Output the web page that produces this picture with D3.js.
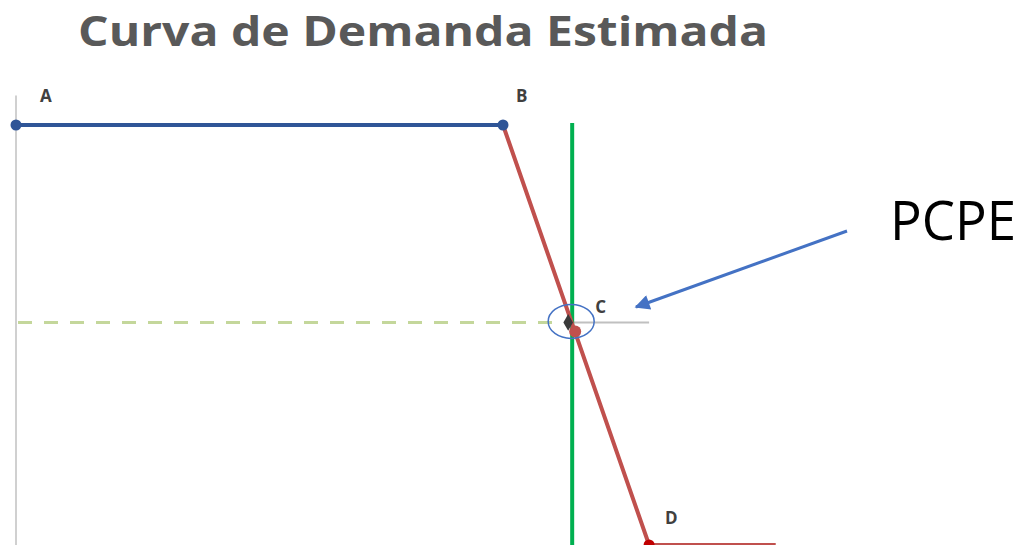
<!DOCTYPE html>
<html>
<head>
<meta charset="utf-8">
<script src="https://cdn.jsdelivr.net/npm/d3@7"></script>
<style>
  body { margin: 0; background: #fff; }
  svg { display: block; }
</style>
</head>
<body>
<div id="chart"></div>
<script>
// demand curve points (quantity, price)
var curveLabels = ["A", "B", "C", "D"];
var upperSegment = [[0, 100], [50, 100]];
var lowerSegment = [[50, 100], [65, 0], [78, 0]];
var pointC = [57, 53];
var supplyQ = 57;
var supplyTop = 100.5;
var labelPoints = [[0, 100], [50, 100], [57, 53], [65, 0]];

var w = 1021;
var h = 545;

var x = d3.scaleLinear().domain([0, 100]).range([16, 990]);
var y = d3.scaleLinear().domain([0, 100]).range([545, 125]);

var svg = d3.select("#chart")
    .append("svg")
    .attr("width", w)
    .attr("height", h);

// title
svg.append("text")
    .attr("x", 78)
    .attr("y", 46)
    .attr("font-family", "'Open Sans', sans-serif")
    .attr("font-weight", "bold")
    .attr("font-size", "41px")
    .attr("fill", "#595959")
    .attr("textLength", 690)
    .attr("lengthAdjust", "spacingAndGlyphs")
    .text("Curva de Demanda Estimada");

// vertical axis line
svg.append("line")
    .attr("x1", x(0)).attr("x2", x(0))
    .attr("y1", y(107)).attr("y2", y(0))
    .attr("stroke", "#d0d0d0")
    .attr("stroke-width", 2);

// dashed price line to C
svg.append("line")
    .attr("x1", x(0) + 2).attr("x2", x(pointC[0]) - 10)
    .attr("y1", y(pointC[1])).attr("y2", y(pointC[1]))
    .attr("stroke", "#c4d79b")
    .attr("stroke-width", 3)
    .attr("stroke-dasharray", "14,12");

// grey line from C
svg.append("line")
    .attr("x1", x(pointC[0]) - 6).attr("x2", x(65))
    .attr("y1", y(pointC[1])).attr("y2", y(pointC[1]))
    .attr("stroke", "#c0c0c0")
    .attr("stroke-width", 2);

var line = d3.line()
    .x(function(d) { return x(d[0]); })
    .y(function(d) { return y(d[1]); });

// green vertical line
svg.append("line")
    .attr("x1", x(supplyQ) + 1).attr("x2", x(supplyQ) + 1)
    .attr("y1", y(supplyTop)).attr("y2", y(0))
    .attr("stroke", "#00b050")
    .attr("stroke-width", 4);

svg.append("path")
    .datum(lowerSegment)
    .attr("d", line)
    .attr("fill", "none")
    .attr("stroke", "#c0504d")
    .attr("stroke-width", 4);

svg.append("path")
    .datum(upperSegment)
    .attr("d", line)
    .attr("fill", "none")
    .attr("stroke", "#2f5597")
    .attr("stroke-width", 4);

// markers
svg.selectAll("circle.blue")
    .data(upperSegment)
    .enter()
    .append("circle")
    .attr("class", "blue")
    .attr("cx", function(d) { return x(d[0]); })
    .attr("cy", function(d) { return y(d[1]); })
    .attr("r", 5.5)
    .attr("fill", "#2f5597");

svg.append("circle")
    .attr("cx", x(65))
    .attr("cy", y(0))
    .attr("r", 5.5)
    .attr("fill", "#c00000");

svg.append("circle")
    .attr("cx", x(pointC[0]) + 4)
    .attr("cy", y(pointC[1]) + 9)
    .attr("r", 6)
    .attr("fill", "#c0504d");

svg.append("path")
    .attr("d", d3.symbol().type(d3.symbolDiamond).size(80)())
    .attr("transform", "translate(" + (x(pointC[0]) - 3) + "," + y(pointC[1]) + ")")
    .attr("fill", "#3a3a3a");

// ellipse around C
svg.append("ellipse")
    .attr("cx", x(pointC[0]))
    .attr("cy", y(pointC[1]) - 1)
    .attr("rx", 23)
    .attr("ry", 17)
    .attr("fill", "none")
    .attr("stroke", "#4472c4")
    .attr("stroke-width", 1.5);

// point labels
var offsets = [[24, -23], [13, -23], [24, -9], [16, -21]];
svg.selectAll("text.lbl")
    .data(labelPoints)
    .enter()
    .append("text")
    .attr("class", "lbl")
    .attr("x", function(d, i) { return x(d[0]) + offsets[i][0]; })
    .attr("y", function(d, i) { return y(d[1]) + offsets[i][1]; })
    .attr("font-family", "'Open Sans', sans-serif")
    .attr("font-weight", "bold")
    .attr("font-size", "17px")
    .attr("fill", "#404040")
    .text(function(d, i) { return curveLabels[i]; });

// arrow + PCPE
svg.append("defs").append("marker")
    .attr("id", "arrow")
    .attr("viewBox", "0 0 10 10")
    .attr("refX", 9)
    .attr("refY", 5)
    .attr("markerWidth", 6)
    .attr("markerHeight", 5)
    .attr("orient", "auto")
    .append("path")
    .attr("d", "M0,0 L10,5 L0,10 z")
    .attr("fill", "#4472c4");

svg.append("line")
    .attr("x1", 847).attr("y1", 231)
    .attr("x2", 636).attr("y2", 307)
    .attr("stroke", "#4472c4")
    .attr("stroke-width", 3)
    .attr("marker-end", "url(#arrow)");

svg.append("text")
    .attr("x", 890)
    .attr("y", 240)
    .attr("font-family", "'Open Sans', sans-serif")
    .attr("font-size", "54px")
    .attr("fill", "#000")
    .attr("textLength", 126)
    .attr("lengthAdjust", "spacingAndGlyphs")
    .text("PCPE");
</script>
</body>
</html>
